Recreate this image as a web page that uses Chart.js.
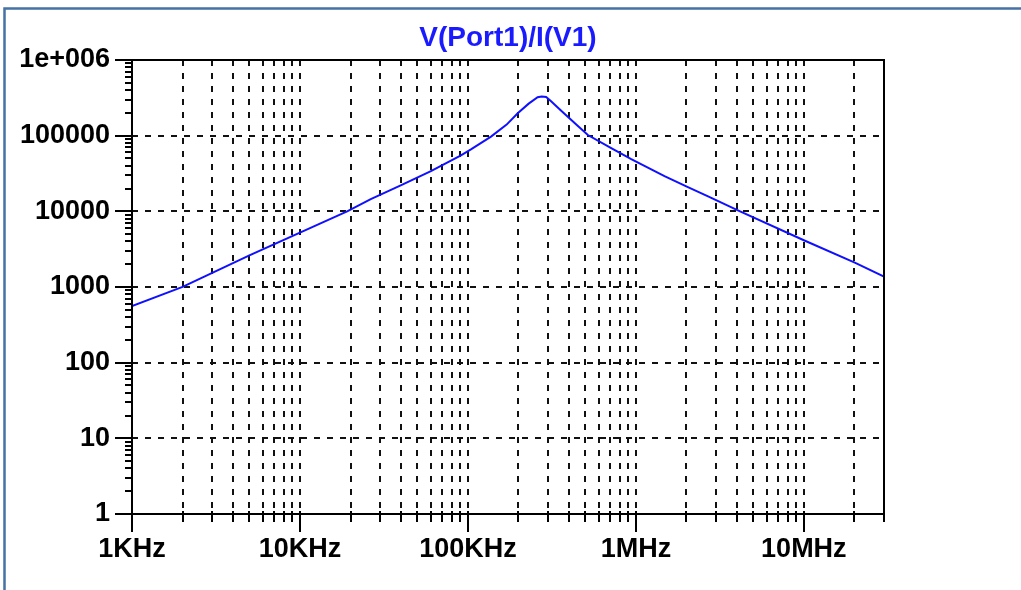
<!DOCTYPE html>
<html>
<head>
<meta charset="utf-8">
<script src="https://cdn.jsdelivr.net/npm/chart.js@4.4.0/dist/chart.umd.min.js"></script>
<style>
html, body { margin: 0; padding: 0; background: #fff; }
#wrap { width: 1021px; height: 590px; }
</style>
</head>
<body>
<div id="wrap"><canvas id="plot" width="1021" height="590"></canvas></div>
<script>
// frequency (Hz) and impedance (ohm)
const freqs = [1e3, 2e3, 5e3, 1e4, 1.91e4, 2.64e4, 3.98e4, 6.02e4, 9.09e4, 1.042e5, 1.372e5, 1.7e5,
    1.979e5, 2.3e5, 2.6e5, 2.75e5, 2.92e5, 3.127e5, 3.5e5, 3.93e5, 4.5e5, 5.176e5, 7.13e5, 9.38e5,
    1.48e6, 2.04e6, 2.69e6, 4.17e6, 1e7, 2.01e7, 3e7];
const impedance = [560, 1005, 2620, 5230, 10000, 14500, 22000, 34000, 55000, 66000, 97200, 140000,
    198000, 265000, 322000, 330000, 324000, 285000, 225000, 178000, 135000, 102000, 68300, 49000,
    29200, 20900, 15800, 10000, 4150, 2100, 1370];

const xDecades = [1e3, 1e4, 1e5, 1e6, 1e7];
const xLabels = ["1KHz", "10KHz", "100KHz", "1MHz", "10MHz"];
const yDecades = [1, 10, 100, 1000, 10000, 100000, 1000000];
const yLabels = ["1", "10", "100", "1000", "10000", "100000", "1e+006"];
const traceName = "V(Port1)/I(V1)";

const xMin = 1e3, xMax = 3e7;
const yMin = 1, yMax = 1e6;

// every 1..9 step of each decade, used for the vertical grid and the minor ticks
function minorSteps(decades, max) {
    let out = [];
    for (let d of decades) {
        for (let m = 1; m <= 9; m++) {
            if (d * m <= max * 1.0001) out.push(d * m);
        }
    }
    return out;
}
const xAll = minorSteps(xDecades, xMax);
const yAll = minorSteps(yDecades.slice(0, -1), yMax);

const fontFamily = "'Liberation Sans', Arial, sans-serif";
const labelFont = { family: fontFamily, size: 27, weight: "bold" };

function findLabel(values, labels, v) {
    for (let i = 0; i < values.length; i++) {
        if (Math.abs(v / values[i] - 1) < 1e-6) return labels[i];
    }
    return "";
}

const framePlugin = {
    id: "framePlugin",
    afterDraw(chart) {
        const ctx = chart.ctx;
        const a = chart.chartArea;
        const xs = chart.scales.x;
        const ys = chart.scales.y;
        ctx.save();
        // window border
        ctx.strokeStyle = "#4672a4";
        ctx.lineWidth = 2.5;
        ctx.beginPath();
        ctx.moveTo(4.5, 590);
        ctx.lineTo(4.5, 8.5);
        ctx.lineTo(1021, 8.5);
        ctx.stroke();
        // plot frame
        ctx.strokeStyle = "#000";
        ctx.lineWidth = 2;
        ctx.strokeRect(a.left, a.top, a.right - a.left, a.bottom - a.top);
        // x ticks
        ctx.beginPath();
        for (let v of xAll) {
            const px = Math.round(xs.getPixelForValue(v));
            const major = findLabel(xDecades, xLabels, v) !== "";
            ctx.moveTo(px, a.bottom - 3);
            ctx.lineTo(px, a.bottom + (major ? 18 : 8));
        }
        // y ticks
        for (let v of yAll.concat([yMax])) {
            const py = Math.round(ys.getPixelForValue(v));
            const major = findLabel(yDecades, yLabels, v) !== "";
            ctx.moveTo(a.left - (major ? 17 : 7), py);
            ctx.lineTo(a.left, py);
        }
        ctx.stroke();
        // trace name above the plot, centred on the plot area
        ctx.fillStyle = "#1a1aff";
        ctx.font = "bold 28px " + fontFamily;
        ctx.textAlign = "center";
        ctx.textBaseline = "middle";
        ctx.fillText(traceName, (a.left + a.right) / 2, 38);
        ctx.restore();
    }
};

const chart = new Chart(document.querySelector("#plot").getContext("2d"), {
    type: "line",
    data: {
        datasets: [{
            label: traceName,
            data: freqs.map((f, i) => ({ x: f, y: impedance[i] })),
            borderColor: "#1010ff",
            borderWidth: 2,
            pointRadius: 0,
            tension: 0,
            fill: false
        }]
    },
    options: {
        responsive: false,
        animation: false,
        devicePixelRatio: 1,
        layout: { padding: { left: 0, right: 137, top: 60, bottom: 0 } },
        plugins: {
            legend: { display: false },
            tooltip: { enabled: false },
            title: { display: false }
        },
        scales: {
            x: {
                type: "logarithmic",
                min: xMin,
                max: xMax,
                afterBuildTicks: (s) => { s.ticks = xAll.map((v) => ({ value: v })); },
                afterFit: (s) => { s.height = 76; },
                ticks: {
                    autoSkip: false,
                    maxRotation: 0,
                    padding: 19,
                    color: "#000",
                    font: labelFont,
                    callback: (v) => findLabel(xDecades, xLabels, v)
                },
                grid: { color: "#111", lineWidth: 2, drawTicks: false },
                border: { display: false, dash: [6, 7] }
            },
            y: {
                type: "logarithmic",
                min: yMin,
                max: yMax,
                afterBuildTicks: (s) => { s.ticks = yDecades.map((v) => ({ value: v })); },
                afterFit: (s) => { s.width = 132; },
                ticks: {
                    autoSkip: false,
                    padding: 22,
                    color: "#000",
                    font: labelFont,
                    callback: (v) => findLabel(yDecades, yLabels, v)
                },
                grid: { color: "#111", lineWidth: 2, drawTicks: false },
                border: { display: false, dash: [6, 7] }
            }
        }
    },
    plugins: [framePlugin]
});
</script>
</body>
</html>
